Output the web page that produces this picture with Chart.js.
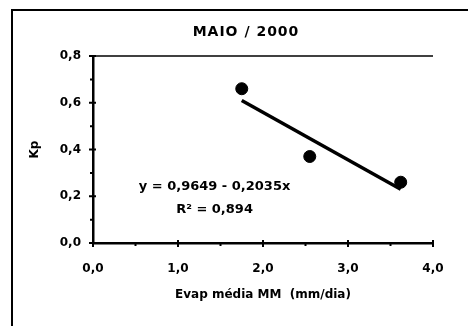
<!DOCTYPE html>
<html lang="pt">
<head>
<meta charset="UTF-8">
<title>Kp x Evap - Maio 2000</title>
<script src="https://cdn.jsdelivr.net/npm/chart.js"></script>
<style>
  html, body { margin: 0; padding: 0; background: #fff; }
</style>
</head>
<body>
<canvas id="kpChart" width="468" height="326"></canvas>
<script>
// pontos medidos (Evap média MM x Kp)
const evap = [1.75, 2.55, 3.62];
const kp = [0.66, 0.37, 0.26];

// linha de tendência, extremos
const trendX = [1.75, 3.62];
const trendY = [0.61, 0.23];

const xTicks = [0, 1, 2, 3, 4];
const yTicks = [0, 0.2, 0.4, 0.6, 0.8];
const xMinor = [0.5, 1.5, 2.5, 3.5];
const yMinor = [0.1, 0.3, 0.5, 0.7];

const titleText = 'MAIO / 2000';
const eqLines = ['y = 0,9649 - 0,2035x', 'R² = 0,894'];

const FONT = 'DejaVu Sans';
const fmt = v => Number(v).toFixed(1).replace('.', ',');

const decor = {
  id: 'decor',
  beforeDraw(chart) {
    const ctx = chart.ctx;
    ctx.save();
    ctx.fillStyle = '#fff';
    ctx.fillRect(0, 0, chart.width, chart.height);
    // moldura externa
    ctx.strokeStyle = '#000';
    ctx.lineWidth = 2;
    ctx.strokeRect(12, 10, chart.width, chart.height);
    ctx.restore();
  },
  afterDraw(chart) {
    const ctx = chart.ctx;
    const xs = chart.scales.x, ys = chart.scales.y;
    const a = chart.chartArea;
    ctx.save();
    ctx.strokeStyle = '#000';

    // linha superior da área do gráfico
    ctx.lineWidth = 1.5;
    ctx.beginPath();
    ctx.moveTo(a.left, a.top);
    ctx.lineTo(a.right, a.top);
    ctx.stroke();

    // marcas dos eixos
    ctx.lineWidth = 2;
    ctx.beginPath();
    yTicks.forEach(v => { const y = ys.getPixelForValue(v); ctx.moveTo(a.left - 4, y); ctx.lineTo(a.left + 3, y); });
    yMinor.forEach(v => { const y = ys.getPixelForValue(v); ctx.moveTo(a.left - 3, y); ctx.lineTo(a.left, y); });
    xTicks.forEach(v => { const x = xs.getPixelForValue(v); ctx.moveTo(x, a.bottom - 3); ctx.lineTo(x, a.bottom + 4); });
    xMinor.forEach(v => { const x = xs.getPixelForValue(v); ctx.moveTo(x, a.bottom); ctx.lineTo(x, a.bottom + 3); });
    ctx.stroke();

    // título
    ctx.fillStyle = '#000';
    ctx.textAlign = 'center';
    ctx.textBaseline = 'middle';
    ctx.font = 'bold 14px "' + FONT + '"';
    ctx.letterSpacing = '1px';
    ctx.fillText(titleText, 246, 32);

    // equação da regressão
    ctx.letterSpacing = '0px';
    ctx.font = 'bold 13px "' + FONT + '"';
    const ex = xs.getPixelForValue(1.43);
    ctx.fillText(eqLines[0], ex, ys.getPixelForValue(0.24));
    ctx.fillText(eqLines[1], ex, ys.getPixelForValue(0.142));
    ctx.restore();
  }
};

const tickFont = { family: FONT, size: 12, weight: 'bold' };

new Chart(document.getElementById('kpChart'), {
  type: 'scatter',
  data: {
    datasets: [
      {
        label: 'Kp',
        data: evap.map((x, i) => ({ x: x, y: kp[i] })),
        backgroundColor: '#000',
        borderColor: '#000',
        pointRadius: 6,
        pointHoverRadius: 6
      },
      {
        type: 'line',
        label: 'Tendência',
        data: trendX.map((x, i) => ({ x: x, y: trendY[i] })),
        borderColor: '#000',
        borderWidth: 3.5,
        pointRadius: 0,
        fill: false
      }
    ]
  },
  options: {
    responsive: false,
    animation: false,
    devicePixelRatio: 1,
    layout: { padding: { left: 14, right: 35, top: 56, bottom: 0 } },
    plugins: {
      legend: { display: false },
      tooltip: { enabled: false },
      title: { display: false }
    },
    scales: {
      x: {
        type: 'linear',
        min: 0, max: 4,
        afterBuildTicks: s => { s.ticks = xTicks.map(v => ({ value: v })); },
        afterFit: s => { s.height = 83; },
        grid: { display: false },
        border: { display: true, color: '#000', width: 2.5 },
        ticks: { color: '#000', font: tickFont, padding: 11, maxRotation: 0, callback: v => fmt(v) },
        title: { display: true, text: 'Evap média MM  (mm/dia)', color: '#000', font: tickFont, padding: { top: 0, bottom: 24 } }
      },
      y: {
        type: 'linear',
        min: 0, max: 0.8,
        afterBuildTicks: s => { s.ticks = yTicks.map(v => ({ value: v })); },
        afterFit: s => { s.width = 79; },
        grid: { display: false },
        border: { display: true, color: '#000', width: 2.5 },
        ticks: { color: '#000', font: tickFont, padding: 4, callback: v => fmt(v) },
        title: { display: true, text: 'Kp', color: '#000', font: tickFont, padding: { top: 14, bottom: 0 } }
      }
    }
  },
  plugins: [decor]
});
</script>
</body>
</html>
